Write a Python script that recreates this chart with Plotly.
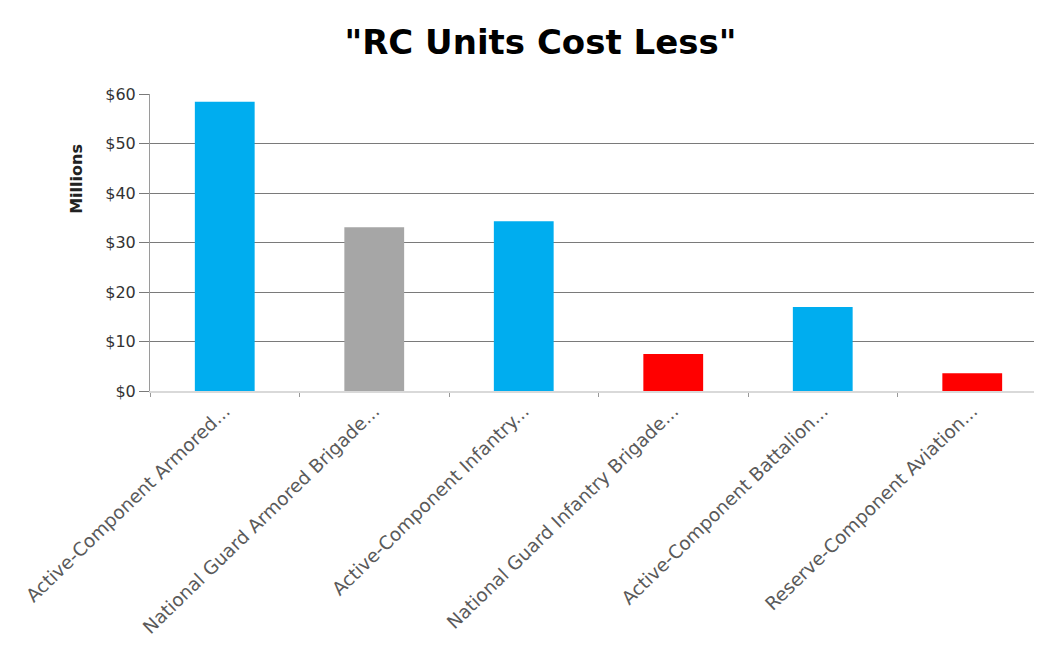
import plotly.graph_objects as go

categories = [
    "Active-Component Armored...",
    "National Guard Armored Brigade...",
    "Active-Component Infantry...",
    "National Guard Infantry Brigade...",
    "Active-Component Battalion...",
    "Reserve-Component Aviation...",
]
values = [58.5, 33.1, 34.3, 7.5, 17.0, 3.6]
colors = ["#00ADEF", "#A6A6A6", "#00ADEF", "#FF0000", "#00ADEF", "#FF0000"]
y_ticks = [0, 10, 20, 30, 40, 50, 60]
y_tick_labels = ["$0", "$10", "$20", "$30", "$40", "$50", "$60"]

fig = go.Figure(go.Bar(x=categories, y=values, marker=dict(color=colors, line=dict(width=0)), width=0.4))

fig.update_layout(
    width=1042, height=665,
    paper_bgcolor="white", plot_bgcolor="white",
    margin=dict(l=142, r=3, t=86, b=282, autoexpand=False),
    showlegend=False,
    title=dict(text='<b>"RC Units Cost Less"</b>', x=0.511, xanchor="center", y=0.949, yanchor="middle",
               font=dict(family="DejaVu Sans", size=34, color="black")),
    font=dict(family="DejaVu Sans", color="#333333"),
)
fig.update_xaxes(
    range=[-0.5, 5.5], tickangle=-44, tickfont=dict(size=18.5, color="#5a5a5a"),
    showline=True, linecolor="#D9D9D9", linewidth=2,
    ticks="outside", tickson="boundaries", ticklen=4, tickcolor="#999999",
    showgrid=False, automargin=False,
)
fig.update_yaxes(
    range=[0, 60.05], tickvals=y_ticks, ticktext=y_tick_labels,
    tickfont=dict(size=16, color="#333333"),
    showgrid=True, gridcolor="#7a7a7a", gridwidth=1,
    showline=True, linecolor="#9a9a9a", linewidth=1,
    ticks="outside", ticklen=10, tickcolor="#7a7a7a",
    zeroline=False, automargin=False,
)
fig.add_annotation(text="<b>Millions</b>", xref="paper", yref="paper", x=-0.095, y=0.84,
                   textangle=-90, showarrow=False, font=dict(size=16, color="#222222", family="DejaVu Sans"))

fig.write_html("out.html")
